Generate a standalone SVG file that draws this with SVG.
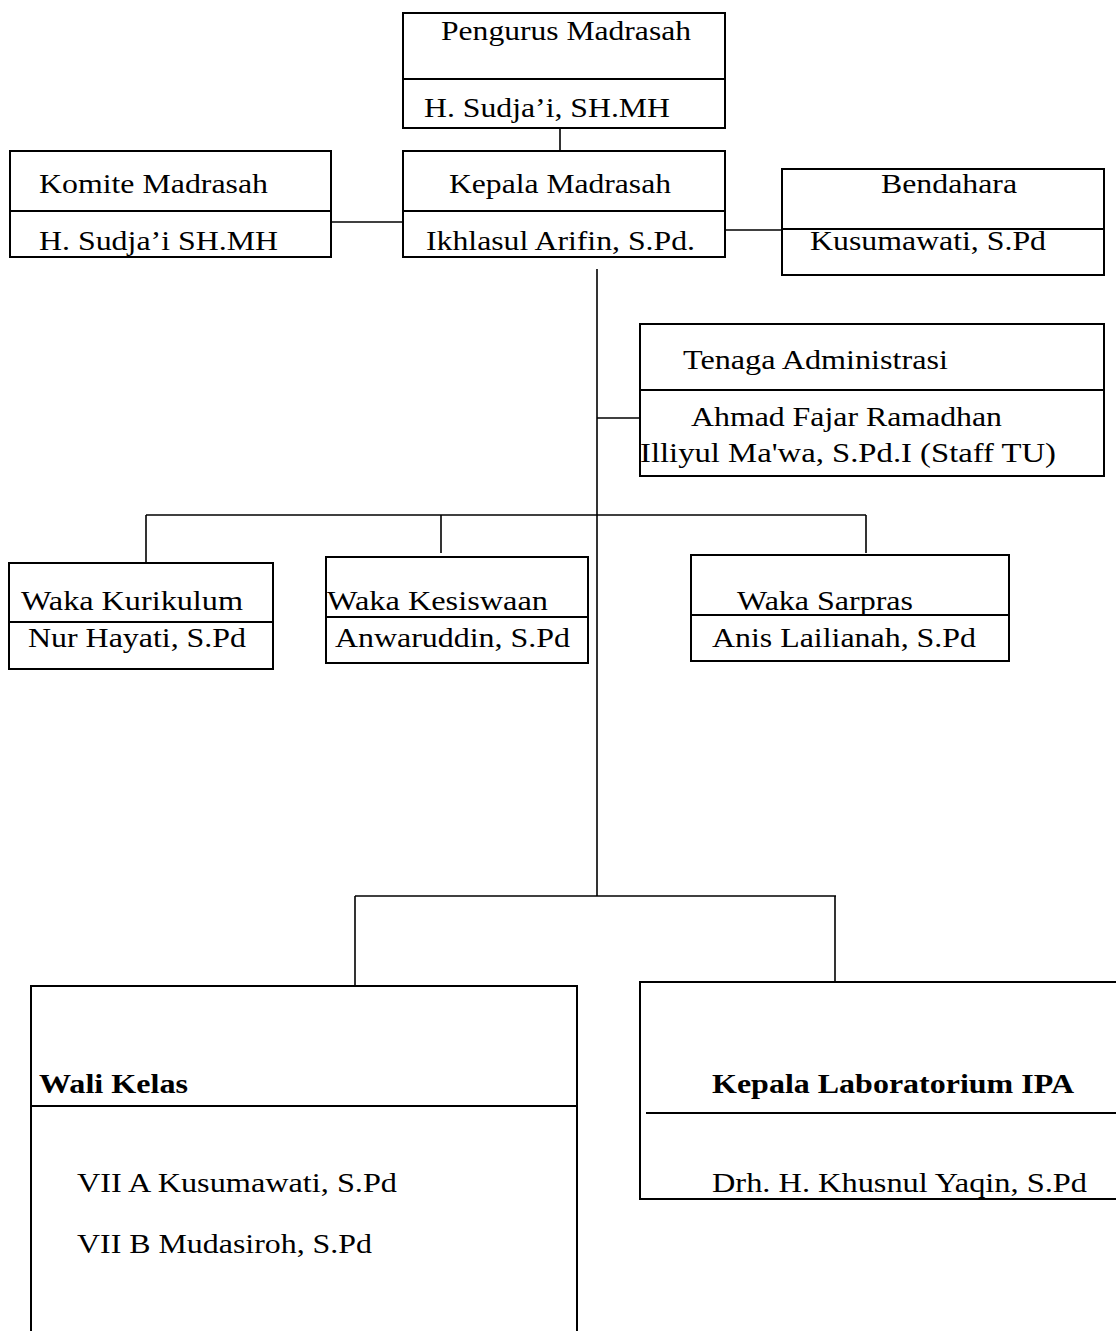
<svg xmlns="http://www.w3.org/2000/svg" width="1116" height="1331" viewBox="0 0 1116 1331">
<style>
.box{fill:#fff;stroke:#000;stroke-width:2}
.div{stroke:#000;stroke-width:2;fill:none}
.c{stroke:#000;stroke-width:1.6;fill:none}
text{font-family:"Liberation Serif","Times New Roman",serif;font-size:27px;fill:#000}
.b{font-weight:bold}
</style>
<rect width="1116" height="1331" fill="#fff"/>
<g id="connectors">
<line class="c" x1="560" y1="129" x2="560" y2="151"/>
<line class="c" x1="331" y1="222" x2="403" y2="222"/>
<line class="c" x1="725" y1="230" x2="782" y2="230"/>
<line class="c" x1="597" y1="269" x2="597" y2="896"/>
<line class="c" x1="597" y1="418" x2="640" y2="418"/>
<line class="c" x1="146" y1="515" x2="866" y2="515"/>
<line class="c" x1="146" y1="515" x2="146" y2="566"/>
<line class="c" x1="441" y1="515" x2="441" y2="553"/>
<line class="c" x1="866" y1="515" x2="866" y2="553"/>
<line class="c" x1="355" y1="896" x2="836" y2="896"/>
<line class="c" x1="355" y1="896" x2="355" y2="985"/>
<line class="c" x1="835" y1="896" x2="835" y2="982"/>
</g>
<g id="pengurus">
<rect class="box" x="403" y="13" width="322" height="115"/>
<line class="div" x1="403" y1="79" x2="725" y2="79"/>
<text x="441" y="40" textLength="250" lengthAdjust="spacingAndGlyphs">Pengurus Madrasah</text>
<text x="424" y="117" textLength="246" lengthAdjust="spacingAndGlyphs">H. Sudja’i, SH.MH</text>
</g>
<g id="komite">
<rect class="box" x="10" y="151" width="321" height="106"/>
<line class="div" x1="10" y1="211" x2="331" y2="211"/>
<text x="39" y="193" textLength="229" lengthAdjust="spacingAndGlyphs">Komite Madrasah</text>
<text x="39" y="250" textLength="239" lengthAdjust="spacingAndGlyphs">H. Sudja’i SH.MH</text>
</g>
<g id="kepala">
<rect class="box" x="403" y="151" width="322" height="106"/>
<line class="div" x1="403" y1="211" x2="725" y2="211"/>
<text x="449" y="193" textLength="222" lengthAdjust="spacingAndGlyphs">Kepala Madrasah</text>
<text x="426" y="250" textLength="269" lengthAdjust="spacingAndGlyphs">Ikhlasul Arifin, S.Pd.</text>
</g>
<g id="bendahara">
<rect class="box" x="782" y="169" width="322" height="106"/>
<line class="div" x1="782" y1="229" x2="1104" y2="229"/>
<text x="881" y="193" textLength="136" lengthAdjust="spacingAndGlyphs">Bendahara</text>
<text x="810" y="250" textLength="236" lengthAdjust="spacingAndGlyphs">Kusumawati, S.Pd</text>
</g>
<g id="tenaga">
<rect class="box" x="640" y="324" width="464" height="152"/>
<line class="div" x1="640" y1="390" x2="1104" y2="390"/>
<text x="683" y="369" textLength="265" lengthAdjust="spacingAndGlyphs">Tenaga Administrasi</text>
<text x="691" y="426" textLength="311" lengthAdjust="spacingAndGlyphs">Ahmad Fajar Ramadhan</text>
<text x="640" y="462" textLength="416" lengthAdjust="spacingAndGlyphs">Illiyul Ma'wa, S.Pd.I (Staff TU)</text>
</g>
<g id="kurikulum">
<rect class="box" x="9" y="563" width="264" height="106"/>
<line class="div" x1="9" y1="622" x2="273" y2="622"/>
<text x="21" y="610" textLength="222" lengthAdjust="spacingAndGlyphs">Waka Kurikulum</text>
<text x="28" y="647" textLength="218" lengthAdjust="spacingAndGlyphs">Nur Hayati, S.Pd</text>
</g>
<g id="kesiswaan">
<rect class="box" x="326" y="557" width="262" height="106"/>
<line class="div" x1="326" y1="617" x2="588" y2="617"/>
<text x="327" y="610" textLength="221" lengthAdjust="spacingAndGlyphs">Waka Kesiswaan</text>
<text x="335" y="647" textLength="235" lengthAdjust="spacingAndGlyphs">Anwaruddin, S.Pd</text>
</g>
<g id="sarpras">
<rect class="box" x="691" y="555" width="318" height="106"/>
<line class="div" x1="691" y1="615" x2="1009" y2="615"/>
<text x="737" y="610" textLength="176" lengthAdjust="spacingAndGlyphs">Waka Sarpras</text>
<text x="712" y="647" textLength="264" lengthAdjust="spacingAndGlyphs">Anis Lailianah, S.Pd</text>
</g>
<g id="walikelas">
<path class="div" d="M31,1332 V986 H577 V1332"/>
<line class="div" x1="31" y1="1106" x2="577" y2="1106"/>
<text class="b" x="39" y="1093" textLength="149" lengthAdjust="spacingAndGlyphs">Wali Kelas</text>
<text x="77" y="1192" textLength="320" lengthAdjust="spacingAndGlyphs">VII A Kusumawati, S.Pd</text>
<text x="77" y="1253" textLength="295" lengthAdjust="spacingAndGlyphs">VII B Mudasiroh, S.Pd</text>
</g>
<g id="lab">
<path class="div" d="M1118,982 H640 V1199 H1118"/>
<line class="div" x1="646" y1="1113" x2="1118" y2="1113"/>
<text class="b" x="712" y="1093" textLength="362" lengthAdjust="spacingAndGlyphs">Kepala Laboratorium IPA</text>
<text x="712" y="1192" textLength="375" lengthAdjust="spacingAndGlyphs">Drh. H. Khusnul Yaqin, S.Pd</text>
</g>
</svg>
